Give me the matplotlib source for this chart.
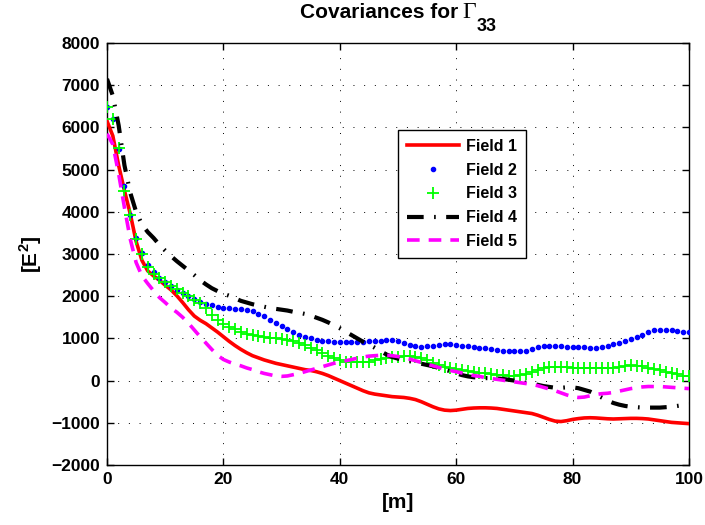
import matplotlib
matplotlib.use("Agg")
import matplotlib.pyplot as plt
import numpy as np

plt.rcParams['font.family'] = ['Liberation Sans', 'DejaVu Sans']
plt.rcParams['font.weight'] = 'bold'
plt.rcParams['mathtext.fontset'] = 'custom'
plt.rcParams['mathtext.rm'] = 'Liberation Sans:bold'
plt.rcParams['mathtext.bf'] = 'Liberation Sans:bold'

lag = list(range(0, 101))

field1 = [6150, 5800, 5100, 4500, 3950, 3300, 2850, 2600, 2480, 2380,
          2260, 2150, 2010, 1850, 1680, 1530, 1430, 1350, 1250, 1150,
          1040, 930, 830, 740, 660, 590, 540, 490, 450, 410,
          380, 350, 320, 290, 260, 240, 210, 170, 120, 60,
          0, -60, -120, -180, -240, -290, -320, -340, -360, -380,
          -390, -400, -420, -450, -500, -560, -620, -670, -700, -710,
          -700, -680, -660, -650, -645, -645, -650, -660, -680, -700,
          -720, -740, -760, -780, -820, -870, -920, -960, -970, -950,
          -920, -900, -885, -880, -885, -895, -905, -910, -905, -900,
          -895, -895, -900, -910, -930, -950, -970, -990, -1000, -1010,
          -1020]

field2 = [6480, 6200, 5480, 4620, 3920, 3380, 3020, 2750, 2570, 2440,
          2330, 2230, 2150, 2080, 2010, 1940, 1870, 1820, 1780, 1750,
          1730, 1710, 1700, 1690, 1670, 1640, 1590, 1520, 1440, 1360,
          1290, 1220, 1150, 1090, 1040, 1000, 970, 950, 930, 920,
          920, 920, 920, 920, 920, 930, 940, 950, 960, 960,
          940, 900, 850, 810, 800, 810, 830, 850, 860, 860,
          850, 830, 810, 790, 780, 770, 750, 730, 710, 700,
          690, 690, 710, 750, 790, 810, 820, 815, 810, 800,
          795, 790, 785, 780, 780, 790, 820, 860, 900, 940,
          980, 1030, 1090, 1150, 1190, 1210, 1210, 1200, 1180, 1150,
          1140]

field3 = [6480, 6210, 5500, 4500, 3930, 3350, 3010, 2700, 2530, 2420,
          2330, 2240, 2160, 2080, 2000, 1920, 1850, 1720, 1560, 1440,
          1350, 1280, 1220, 1160, 1110, 1080, 1060, 1040, 1020, 1000,
          980, 960, 940, 900, 840, 780, 720, 650, 580, 530,
          490, 450, 430, 430, 440, 450, 480, 510, 540, 560,
          570, 575, 575, 560, 530, 480, 420, 370, 320, 290,
          270, 250, 230, 210, 190, 170, 150, 140, 130, 120,
          120, 130, 160, 210, 260, 300, 320, 320, 320, 315,
          310, 305, 305, 305, 305, 300, 300, 310, 330, 350,
          360, 355, 340, 310, 280, 250, 210, 180, 150, 120,
          100]

field4 = [7150, 6750, 6050, 5100, 4450, 4000, 3700, 3520, 3380, 3220,
          3080, 2950, 2830, 2720, 2610, 2500, 2380, 2280, 2190, 2120,
          2060, 2010, 1950, 1890, 1850, 1810, 1780, 1750, 1720, 1700,
          1680, 1660, 1630, 1610, 1580, 1540, 1490, 1440, 1380, 1310,
          1240, 1160, 1080, 1000, 920, 850, 780, 700, 620, 560,
          520, 490, 460, 430, 400, 370, 340, 300, 260, 220,
          170, 130, 100, 80, 70, 60, 55, 50, 40, 20,
          0, -30, -50, -70, -100, -130, -150, -170, -170, -160,
          -160, -180, -220, -260, -330, -400, -470, -530, -570, -600,
          -620, -630, -640, -640, -640, -640, -630, -620, -600, -580,
          -560]

field5 = [5850, 5600, 4900, 4100, 3350, 2800, 2480, 2300, 2130, 1970,
          1850, 1720, 1620, 1500, 1360, 1200, 1040, 890, 740, 600,
          500, 440, 390, 350, 300, 260, 210, 170, 140, 110,
          100, 110, 140, 170, 210, 250, 290, 330, 370, 410,
          440, 470, 500, 530, 560, 580, 590, 600, 600, 590,
          570, 540, 510, 470, 430, 390, 350, 310, 270, 240,
          210, 180, 150, 120, 100, 70, 50, 30, 10, -10,
          -30, -50, -70, -90, -120, -160, -200, -240, -290, -340,
          -380, -400, -390, -360, -330, -310, -300, -280, -250, -220,
          -190, -170, -150, -140, -140, -140, -150, -160, -170, -180,
          -190]

xticks = [0, 20, 40, 60, 80, 100]
yticks = [-2000, -1000, 0, 1000, 2000, 3000, 4000, 5000, 6000, 7000, 8000]
labels = ['Field 1', 'Field 2', 'Field 3', 'Field 4', 'Field 5']

W, H = 705, 525
fig = plt.figure(figsize=(W / 100, H / 100), dpi=100)
ax = fig.add_axes([107 / W, 1 - 465 / H, 582 / W, 422 / H])

ax.plot(lag, field1, color='#ff0000', lw=2.6, label=labels[0], zorder=3)
ax.plot(lag, field2, color='#0000ff', ls='none', marker='.', ms=6, label=labels[1], zorder=3)
ax.plot(lag, field3, color='#00ff00', ls='none', marker='+', ms=8, mew=1.3, label=labels[2], zorder=3)
ax.plot(lag, field4, color='black', lw=3.0, dashes=(4, 2.5, 0.4, 2.5), label=labels[3], zorder=3)
ax.plot(lag, field5, color='#ff00ff', lw=2.6, dashes=(3.5, 2.5), label=labels[4], zorder=3)

ax.set_xlim(0, 100)
ax.set_ylim(-2000, 8000)
ax.set_xticks(xticks)
ax.set_yticks(yticks)
ax.set_xticklabels([str(v) for v in xticks], fontsize=12.5, fontweight='bold')
ax.set_yticklabels([('\u2212' + str(-v)) if v < 0 else str(v) for v in yticks],
                   fontsize=12.5, fontweight='bold')
ax.tick_params(direction='in', top=True, right=True, length=5, width=1, pad=5)
ax.grid(True, color='black', linestyle=(0, (1, 10)), linewidth=0.7)
for s in ax.spines.values():
    s.set_linewidth(1.0)

ax.set_xlabel('[m]', fontsize=15, fontweight='bold', labelpad=4)
ax.set_ylabel(r'[E$^{\mathbf{2}}$]', fontsize=15, fontweight='bold', labelpad=5)

leg = ax.legend(loc='upper left', bbox_to_anchor=(291 / 582, 335 / 422), fancybox=False,
                edgecolor='black', framealpha=1, prop={'weight': 'bold', 'size': 11.5},
                handlelength=3.3, handletextpad=0.4, borderpad=0.55, labelspacing=0.55,
                borderaxespad=0, numpoints=1)
leg.get_frame().set_linewidth(1.0)

# Title built from pieces (large serif Gamma with full-size subscript, as in the original)
renderer = fig.canvas.get_renderer()
t1 = fig.text(0, 0, 'Covariances for', fontsize=15, fontweight='bold', va='baseline', ha='left')
t2 = fig.text(0, 0, '\u0393', fontsize=17, fontweight='normal', family='Liberation Serif',
              va='baseline', ha='left')
t3 = fig.text(0, 0, '33', fontsize=13, fontweight='bold', va='baseline', ha='left')
w1 = t1.get_window_extent(renderer).width
w2 = t2.get_window_extent(renderer).width
w3 = t3.get_window_extent(renderer).width
gap = 5
total = w1 + gap + w2 + w3
x0 = 398 - total / 2
base1 = H - 18
base3 = H - 31
t1.set_position((x0 / W, base1 / H))
t2.set_position(((x0 + w1 + gap) / W, base1 / H))
t3.set_position(((x0 + w1 + gap + w2) / W, base3 / H))

fig.savefig('out.png', dpi=100)
